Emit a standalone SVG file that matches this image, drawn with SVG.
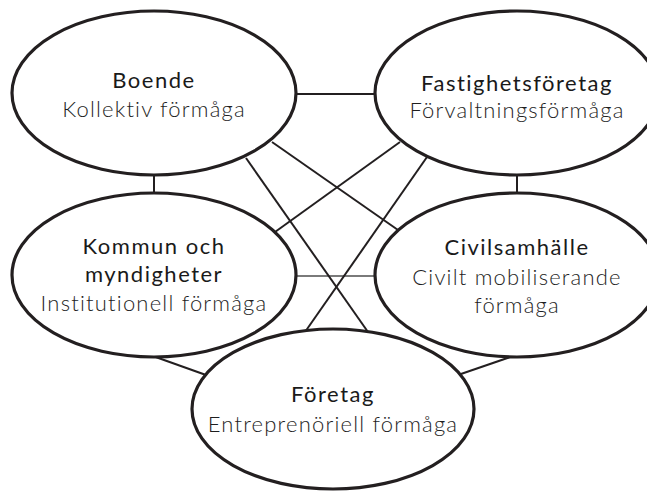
<svg xmlns="http://www.w3.org/2000/svg" width="647" height="493" viewBox="0 0 647 493">
<style>
.bg{fill:#ffffff}
.edge{stroke:#231f20;stroke-width:2;fill:none}
.grey{stroke:#7a7a7a;stroke-width:2.2;fill:none}
.node{fill:#ffffff;stroke:#231f20;stroke-width:3.2}
.t{font-family:Lato,"Noto Sans","DejaVu Sans",sans-serif;font-size:22px;letter-spacing:1.5px;text-anchor:middle;font-weight:400;fill:#1a1a1a}
.s{font-family:Lato,"Noto Sans","DejaVu Sans",sans-serif;font-size:22px;letter-spacing:1.2px;text-anchor:middle;font-weight:300;fill:#1e1e1e}
</style>
<rect class="bg" x="0" y="0" width="647" height="493"/>
<g id="connectors">
<line class="edge" x1="290" y1="94" x2="380" y2="94"/>
<line class="edge" x1="154" y1="170" x2="154" y2="198"/>
<line class="edge" x1="517" y1="170" x2="517" y2="198"/>
<line class="grey" x1="292" y1="276" x2="380" y2="276"/>
<line class="edge" x1="272" y1="142" x2="398" y2="230"/>
<line class="edge" x1="246" y1="158" x2="368" y2="332"/>
<line class="edge" x1="400" y1="142" x2="275" y2="232"/>
<line class="edge" x1="427" y1="157" x2="305" y2="332"/>
<line class="edge" x1="150" y1="355" x2="206" y2="375"/>
<line class="edge" x1="516" y1="355" x2="458" y2="375"/>
</g>
<g id="boende">
<ellipse class="node" cx="154" cy="93" rx="142" ry="82"/>
<text class="t" x="154" y="88">Boende</text>
<text class="s" x="154" y="117">Kollektiv förmåga</text>
</g>
<g id="fastighetsforetag">
<ellipse class="node" cx="517" cy="93" rx="142" ry="82"/>
<text class="t" x="517" y="91">Fastighetsföretag</text>
<text class="s" x="517" y="118">Förvaltningsförmåga</text>
</g>
<g id="kommun">
<ellipse class="node" cx="154" cy="275" rx="142" ry="82"/>
<text class="t" x="154" y="254">Kommun och</text>
<text class="t" x="154" y="282">myndigheter</text>
<text class="s" x="154" y="311">Institutionell förmåga</text>
</g>
<g id="civilsamhalle">
<ellipse class="node" cx="517" cy="275" rx="142" ry="82"/>
<text class="t" x="517" y="255">Civilsamhälle</text>
<text class="s" x="517" y="285">Civilt mobiliserande</text>
<text class="s" x="517" y="313">förmåga</text>
</g>
<g id="foretag">
<ellipse class="node" cx="333" cy="409" rx="141" ry="80"/>
<text class="t" x="333" y="402">Företag</text>
<text class="s" x="333" y="432">Entreprenöriell förmåga</text>
</g>
</svg>
